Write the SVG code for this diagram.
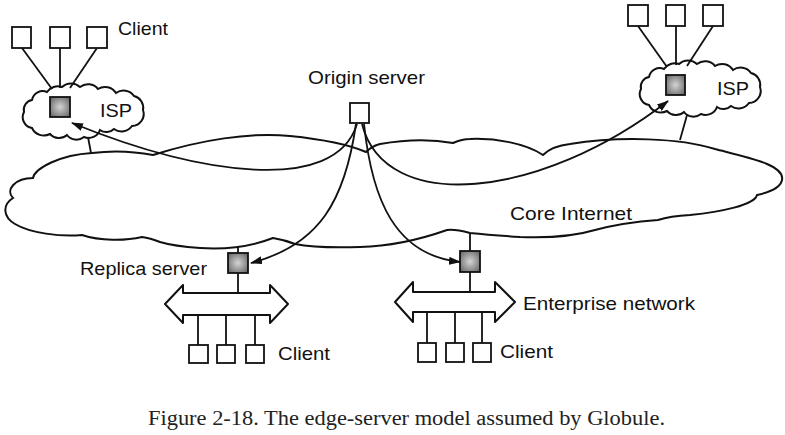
<svg xmlns="http://www.w3.org/2000/svg" width="785" height="435" viewBox="0 0 785 435">
<style>
.o{fill:#fff;stroke:#111;stroke-width:2;stroke-linejoin:round}
.cl{fill:#fff;stroke:#111;stroke-width:2}
.sq{fill:#fff;stroke:#111;stroke-width:1.8}
.gs{fill:url(#g);stroke:#111;stroke-width:1.8}
.ln{fill:none;stroke:#111;stroke-width:1.8}
.cv{fill:none;stroke:#111;stroke-width:1.8}
.t{font-family:"Liberation Sans",Arial,sans-serif;font-size:19px;fill:#111}
.cap{font-family:"Liberation Serif","Times New Roman",serif;font-size:20px;fill:#222}
</style>
<defs>
<radialGradient id="g" cx="50%" cy="50%" r="60%">
<stop offset="0" stop-color="#d4d4d4"/>
<stop offset="1" stop-color="#6e6e6e"/>
</radialGradient>
<marker id="ah" viewBox="0 0 12 8" refX="11" refY="4" markerWidth="12" markerHeight="8" markerUnits="userSpaceOnUse" orient="auto">
<path d="M0,0 L12,4 L0,8 Z" fill="#111"/>
</marker>
<path id="isp" d="M47,92 A13,13 0 0 1 62,87 A13,13 0 0 1 80,87 A13,13 0 0 1 98,89 A13,13 0 0 1 116,93 A13,13 0 0 1 134,96 A12,12 0 0 1 143,110 A12,12 0 0 1 132,126 A13,13 0 0 1 114,129 A11,11 0 0 1 100,130 A12,12 0 0 1 84,137 A12,12 0 0 1 67,135 A12,12 0 0 1 50,134 A13,13 0 0 1 32,128 A11,11 0 0 1 24,112 A10,10 0 0 1 32,100 A11,11 0 0 1 47,92 Z"/>
</defs>
<rect width="785" height="435" fill="#fff"/>

<g id="core-internet">
<path class="cl" d="M92,153 Q122,149 153,155 C200,140 250,132 290,136 C320,139 345,143 366,152 Q372,146 380,144 Q420,137 453,143 Q462,139 470,139 C495,138 525,143 543,155 Q552,146 570,144 C620,136 680,138 715,149 C750,158 785,165 782,180 Q780,190 757,195 C755,205 720,212 690,215 Q670,216 658,220 C630,222 610,226 595,230 C575,236 545,238 520,237 Q490,235 470,233 Q455,229 447,230 C430,236 400,246 360,247 C330,248 310,247 295,244 Q285,240 273,238 C255,245 230,250 200,248 C185,247 170,245 160,242 Q150,238 142,237 C125,241 100,241 82,235 C60,237 30,233 15,224 C3,217 2,205 13,198 C5,190 15,178 33,178 C35,168 60,155 92,153 Z"/>
<text class="t" x="510" y="220" textLength="122" lengthAdjust="spacingAndGlyphs">Core Internet</text>
</g>

<g id="isp-left">
<use href="#isp" class="cl"/>
<rect class="gs" x="50" y="97" width="20" height="20"/>
<text class="t" x="100" y="117" font-size="20" textLength="32" lengthAdjust="spacingAndGlyphs">ISP</text>
</g>

<g id="isp-right">
<use href="#isp" class="cl" transform="translate(617,-23)"/>
<rect class="gs" x="666" y="75" width="19" height="20"/>
<text class="t" x="717" y="95" font-size="20" textLength="32" lengthAdjust="spacingAndGlyphs">ISP</text>
</g>

<g id="clients-top-left">
<rect class="sq" x="12" y="27" width="19" height="21"/>
<rect class="sq" x="50" y="27" width="20" height="21"/>
<rect class="sq" x="87" y="27" width="20" height="21"/>
<text class="t" x="118" y="35" textLength="50" lengthAdjust="spacingAndGlyphs">Client</text>
</g>

<g id="clients-top-right">
<rect class="sq" x="628" y="5" width="20" height="21"/>
<rect class="sq" x="666" y="5" width="19" height="21"/>
<rect class="sq" x="703" y="5" width="20" height="21"/>
</g>

<g id="origin-server">
<rect class="sq" x="350" y="103" width="19" height="20"/>
<text class="t" x="308" y="84" textLength="117" lengthAdjust="spacingAndGlyphs">Origin server</text>
</g>

<g id="replica-server">
<rect class="gs" x="228" y="253" width="20" height="20"/>
<text class="t" x="80" y="275" textLength="127" lengthAdjust="spacingAndGlyphs">Replica server</text>
</g>

<g id="replica-lan">
<polygon class="o" points="165,304 183,285 183,293 270,293 270,285 288,304 270,323 270,315 183,315 183,323"/>
</g>

<g id="clients-bottom-left">
<rect class="sq" x="189" y="345" width="19" height="18"/>
<rect class="sq" x="217" y="345" width="18" height="18"/>
<rect class="sq" x="246" y="345" width="18" height="18"/>
<text class="t" x="278" y="360" textLength="52" lengthAdjust="spacingAndGlyphs">Client</text>
</g>

<g id="enterprise-server">
<rect class="gs" x="460" y="251" width="20" height="21"/>
</g>

<g id="enterprise-network">
<polygon class="o" points="395,302 413,282 413,292 495,292 495,282 515,302 495,322 495,312 413,312 413,322"/>
<text class="t" x="523" y="310" textLength="172" lengthAdjust="spacingAndGlyphs">Enterprise network</text>
</g>

<g id="clients-bottom-right">
<rect class="sq" x="418" y="343" width="18" height="19"/>
<rect class="sq" x="446" y="343" width="18" height="19"/>
<rect class="sq" x="473" y="343" width="18" height="19"/>
<text class="t" x="500" y="358" textLength="53" lengthAdjust="spacingAndGlyphs">Client</text>
</g>

<g id="connectors">
<line class="ln" x1="22" y1="48" x2="52" y2="89"/>
<line class="ln" x1="60" y1="48" x2="60" y2="88"/>
<line class="ln" x1="97" y1="48" x2="70" y2="88"/>
<line class="ln" x1="88" y1="137" x2="91" y2="153"/>
<line class="ln" x1="638" y1="26" x2="667" y2="67"/>
<line class="ln" x1="676" y1="26" x2="676" y2="65"/>
<line class="ln" x1="713" y1="26" x2="687" y2="66"/>
<line class="ln" x1="687" y1="115" x2="680" y2="140"/>
<line class="ln" x1="238" y1="246" x2="238" y2="253"/>
<line class="ln" x1="238" y1="273" x2="238" y2="293"/>
<line class="ln" x1="198" y1="315" x2="198" y2="345"/>
<line class="ln" x1="226" y1="315" x2="226" y2="345"/>
<line class="ln" x1="255" y1="315" x2="255" y2="345"/>
<line class="ln" x1="470" y1="233" x2="470" y2="251"/>
<line class="ln" x1="470" y1="272" x2="470" y2="292"/>
<line class="ln" x1="427" y1="312" x2="427" y2="343"/>
<line class="ln" x1="455" y1="312" x2="455" y2="343"/>
<line class="ln" x1="482" y1="312" x2="482" y2="343"/>
<path class="cv" d="M357,124 C335,195 200,175 72,123" marker-end="url(#ah)"/>
<path class="cv" d="M362,124 C385,215 540,200 668,101" marker-end="url(#ah)"/>
<path class="cv" d="M356,124 C345,200 320,245 251,263" marker-end="url(#ah)"/>
<path class="cv" d="M364,124 C372,200 395,255 460,262" marker-end="url(#ah)"/>
</g>

<text class="cap" x="148" y="425" textLength="517" lengthAdjust="spacingAndGlyphs">Figure 2-18. The edge-server model assumed by Globule.</text>
</svg>
